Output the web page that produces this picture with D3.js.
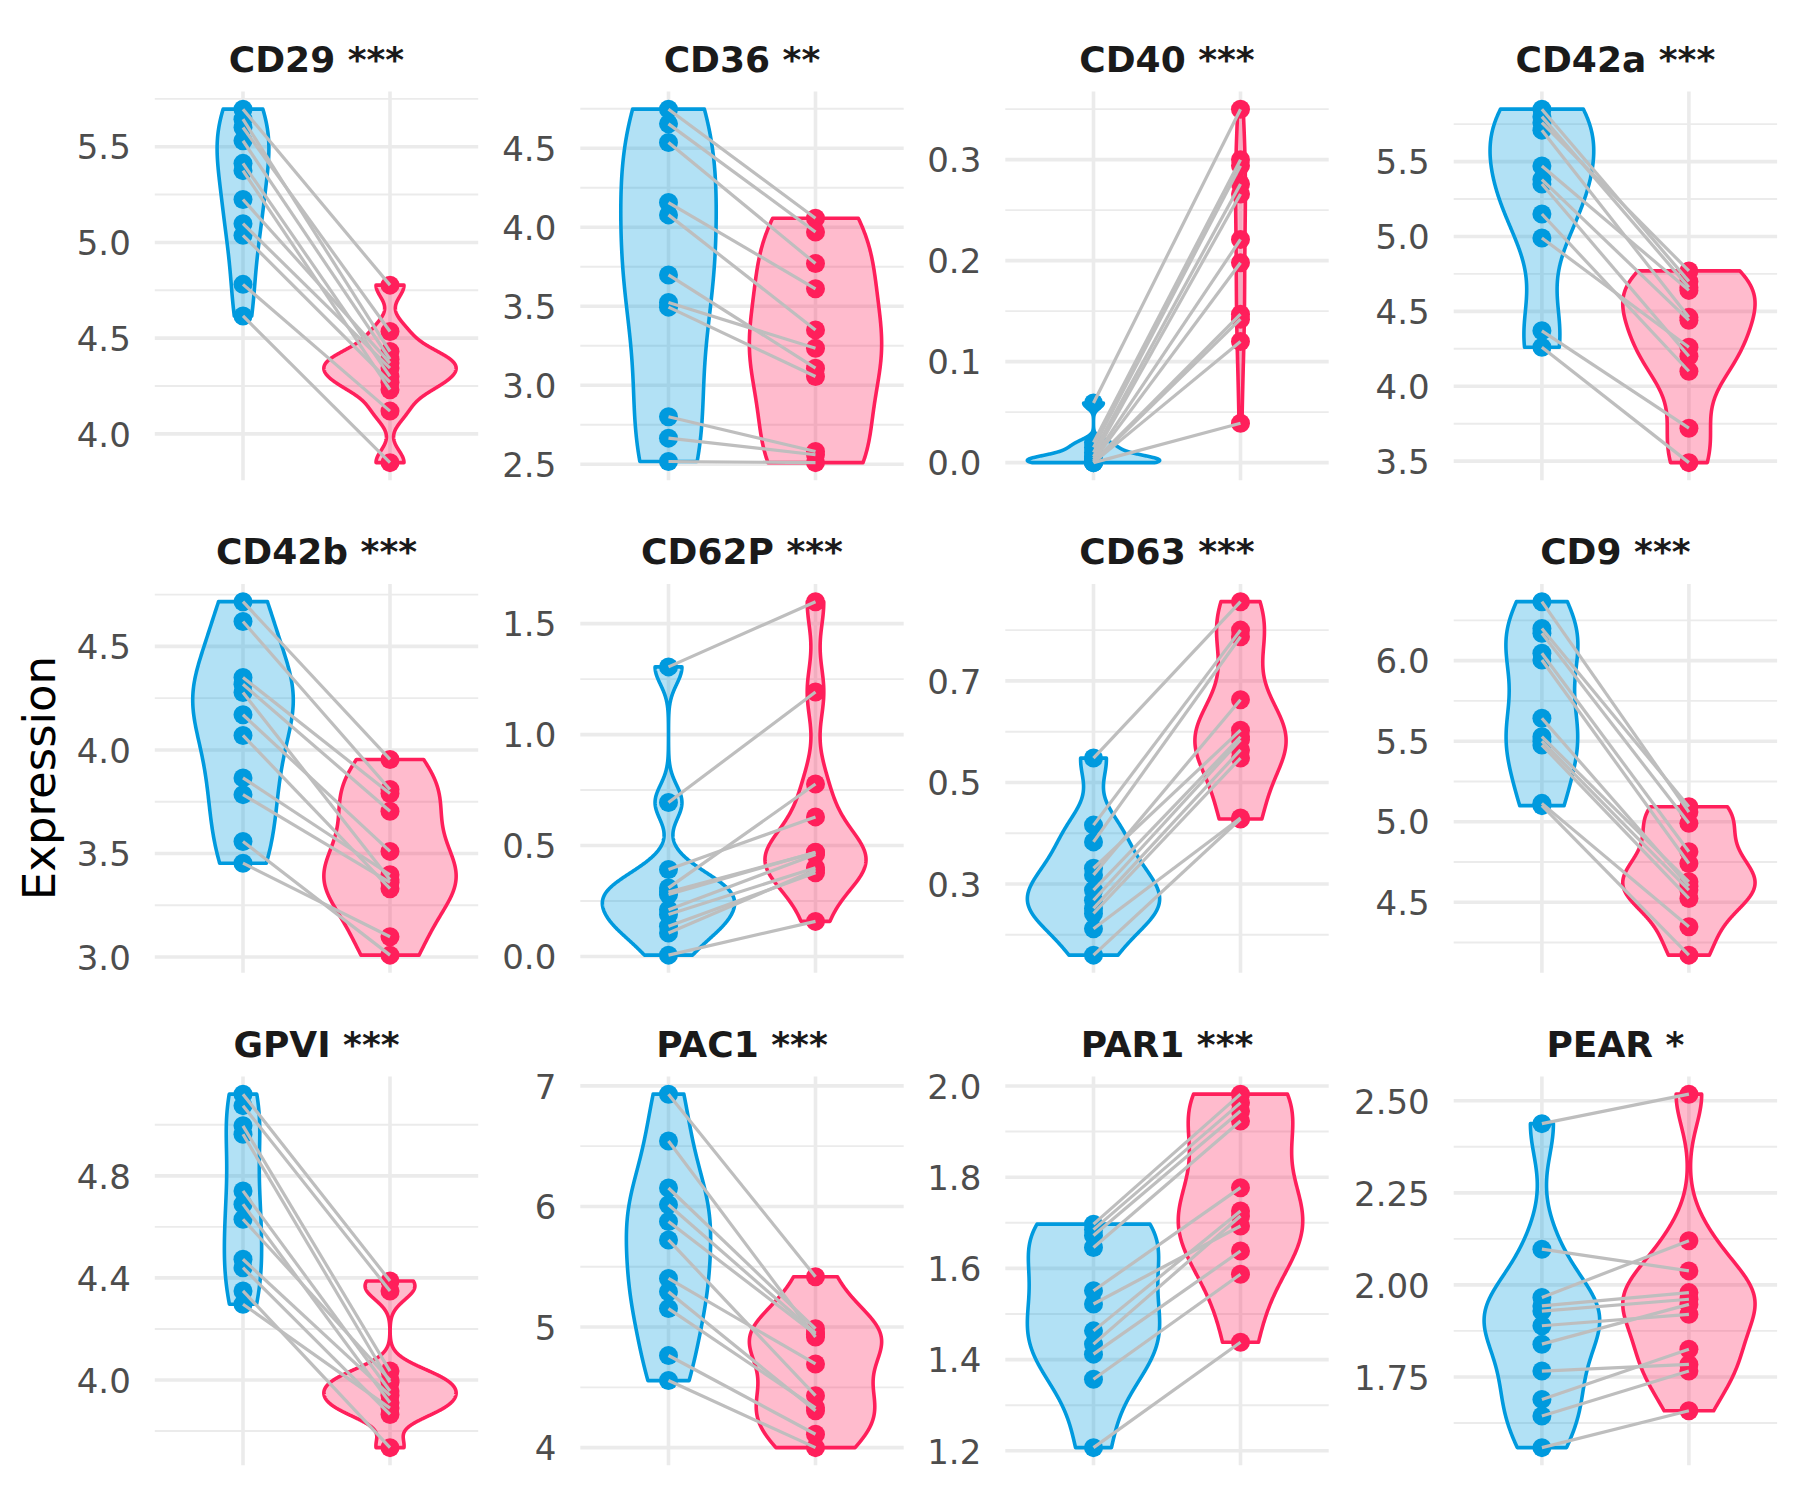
<!DOCTYPE html>
<html><head><meta charset="utf-8">
<script src="https://cdn.jsdelivr.net/npm/d3@7"></script>
<style>body{margin:0;background:#fff} svg{display:block}</style>
</head><body>
<svg id="chart" width="1800" height="1500"></svg>
<script>
// ---------------- data ----------------
const markers = ["CD29","CD36","CD40","CD42a","CD42b","CD62P","CD63","CD9","GPVI","PAC1","PAR1","PEAR"];
const significance = ["***","**","***","***","***","***","***","***","***","***","***","*"];
const groups = ["Group A","Group B"];
const groupColors = ["#009ADE","#FF1F5B"];

// paired values: index i in valuesA[m] pairs with index i in valuesB[m]
const valuesA = [
  [5.696,5.644,5.600,5.531,5.413,5.375,5.224,5.098,5.037,4.781,4.616],
  [4.747,4.654,4.536,4.156,4.078,3.698,3.523,3.494,2.800,2.665,2.517],
  [0.059,0.020,0.015,0.010,0.006,0.004,0.002,0.001,0.000,0.000,0.000],
  [5.85,5.80,5.76,5.71,5.47,5.38,5.35,5.15,4.99,4.37,4.26],
  [4.716,4.620,4.350,4.317,4.277,4.170,4.070,3.865,3.784,3.558,3.453],
  [1.305,0.694,0.392,0.309,0.290,0.279,0.211,0.189,0.136,0.106,0.006],
  [0.548,0.416,0.383,0.331,0.318,0.288,0.268,0.252,0.242,0.212,0.160],
  [6.366,6.200,6.170,6.046,6.004,5.642,5.528,5.500,5.476,5.114,5.100],
  [5.120,5.075,4.996,4.963,4.741,4.689,4.630,4.473,4.440,4.349,4.297],
  [6.931,6.542,6.153,6.014,5.875,5.722,5.403,5.292,5.153,4.764,4.556],
  [1.697,1.685,1.672,1.646,1.551,1.522,1.463,1.434,1.412,1.357,1.207],
  [2.438,2.097,1.966,1.943,1.929,1.889,1.839,1.766,1.689,1.644,1.558]
];
const valuesB = [
  [4.777,4.430,4.535,4.390,4.300,4.231,4.370,4.344,4.270,4.119,3.850],
  [4.057,3.970,3.770,3.610,3.350,3.108,3.234,3.055,2.580,2.560,2.510],
  [0.350,0.300,0.294,0.276,0.266,0.221,0.198,0.147,0.142,0.120,0.039],
  [4.70,4.66,4.77,4.46,4.64,4.44,4.20,4.10,4.26,3.72,3.49],
  [3.954,3.809,3.790,3.704,3.373,3.510,3.330,3.397,3.360,3.009,3.098],
  [1.599,1.192,0.629,0.777,0.468,0.470,0.460,0.400,0.377,0.390,0.158],
  [0.856,0.800,0.787,0.603,0.663,0.590,0.584,0.564,0.548,0.430,0.428],
  [5.060,5.093,4.990,4.814,4.741,4.600,4.627,4.576,4.524,4.348,4.172],
  [4.388,4.349,4.035,3.990,3.957,3.911,4.000,3.940,3.865,3.735,3.890],
  [5.417,4.917,4.986,4.950,4.940,4.431,4.694,4.306,4.330,4.111,4.000],
  [1.982,1.963,1.945,1.923,1.777,1.693,1.726,1.715,1.638,1.587,1.438],
  [2.518,2.038,2.120,1.979,1.961,1.920,1.947,1.784,1.825,1.766,1.658]
];
const tickValues = [
  [4.0,4.5,5.0,5.5],
  [2.5,3.0,3.5,4.0,4.5],
  [0.0,0.1,0.2,0.3],
  [3.5,4.0,4.5,5.0,5.5],
  [3.0,3.5,4.0,4.5],
  [0.0,0.5,1.0,1.5],
  [0.3,0.5,0.7],
  [4.5,5.0,5.5,6.0],
  [4.0,4.4,4.8],
  [4,5,6,7],
  [1.2,1.4,1.6,1.8,2.0],
  [1.75,2.00,2.25,2.50]
];
const tickLabels = [
  ["4.0","4.5","5.0","5.5"],
  ["2.5","3.0","3.5","4.0","4.5"],
  ["0.0","0.1","0.2","0.3"],
  ["3.5","4.0","4.5","5.0","5.5"],
  ["3.0","3.5","4.0","4.5"],
  ["0.0","0.5","1.0","1.5"],
  ["0.3","0.5","0.7"],
  ["4.5","5.0","5.5","6.0"],
  ["4.0","4.4","4.8"],
  ["4","5","6","7"],
  ["1.2","1.4","1.6","1.8","2.0"],
  ["1.75","2.00","2.25","2.50"]
];
const yTitle = "Expression";

// ---------------- layout ----------------
const colLefts = [154.8, 580.3, 1005.3, 1453.7];
const rowTops = [91.5, 584, 1076.5];
const panelW = 323.4, panelH = 388.8;
const FONT = "'DejaVu Sans', Verdana, sans-serif";

const svg = d3.select("#chart");
svg.append("rect").attr("width",1800).attr("height",1500).attr("fill","#fff");

function bwNrd0(x){
  const s = x.slice().sort(d3.ascending);
  const sd = d3.deviation(s);
  const iqr = d3.quantile(s,0.75) - d3.quantile(s,0.25);
  let lo = Math.min(sd, iqr/1.34);
  if(!(lo > 0)) lo = sd || Math.abs(s[0]) || 1;
  return 0.9 * lo * Math.pow(s.length, -0.2);
}
function kde(x, n){
  const bw = bwNrd0(x);
  const lo = d3.min(x), hi = d3.max(x);
  const out = [];
  for(let k=0;k<n;k++){
    const y = lo + (hi-lo)*k/(n-1);
    let s = 0;
    for(const v of x){ const u=(y-v)/bw; s += Math.exp(-0.5*u*u); }
    out.push([y, s/(x.length*bw*Math.sqrt(2*Math.PI))]);
  }
  return out;
}

markers.forEach((m, i) => {
  const col = i % 4, row = Math.floor(i / 4);
  const left = colLefts[col], top = rowTops[row];
  const g = svg.append("g").attr("transform", `translate(${left},${top})`);
  const a = valuesA[i], b = valuesB[i];
  const all = a.concat(b);
  const mn = d3.min(all), mx = d3.max(all), r = mx - mn;
  const y = d3.scaleLinear().domain([mn - 0.05*r, mx + 0.05*r]).range([panelH, 0]);
  const x = d3.scalePoint().domain(groups).range([0, panelW]).padding(0.6);
  const step = x.step();

  // minor grid
  const t = tickValues[i];
  const d = t[1]-t[0];
  const minors = [];
  for(let k=-1;k<t.length;k++){
    const v = t[0] + (k+0.5)*d;
    if(v >= y.domain()[0] && v <= y.domain()[1]) minors.push(v);
  }
  g.selectAll(".minor").data(minors).join("line")
    .attr("x1",0).attr("x2",panelW).attr("y1",v=>y(v)).attr("y2",v=>y(v))
    .attr("stroke","#EBEBEB").attr("stroke-width",1.9);
  g.selectAll(".major").data(t).join("line")
    .attr("x1",0).attr("x2",panelW).attr("y1",v=>y(v)).attr("y2",v=>y(v))
    .attr("stroke","#EBEBEB").attr("stroke-width",3.6);
  g.selectAll(".vmajor").data(groups).join("line")
    .attr("x1",v=>x(v)).attr("x2",v=>x(v)).attr("y1",0).attr("y2",panelH)
    .attr("stroke","#EBEBEB").attr("stroke-width",3.6);

  // y axis
  const ax = g.append("g").call(d3.axisLeft(y).tickValues(t)
      .tickFormat((v,k)=>tickLabels[i][k]).tickSize(0).tickPadding(24));
  ax.select(".domain").remove();
  ax.selectAll("text").attr("font-family",FONT).attr("font-size",34)
    .attr("fill","#4D4D4D").attr("dy","0.36em");

  // violins (scale = area within panel)
  const dens = [kde(a,512), kde(b,512)];
  const maxD = d3.max(dens, dd => d3.max(dd, p=>p[1]));
  dens.forEach((dd, gi) => {
    const cx = x(groups[gi]);
    const hw = p => 0.45*step*p[1]/maxD;
    const pts = dd.map(p=>[cx+hw(p), y(p[0])])
      .concat(dd.slice().reverse().map(p=>[cx-hw(p), y(p[0])]));
    g.append("path").attr("d", d3.line()(pts)+"Z")
      .attr("fill", groupColors[gi]).attr("fill-opacity",0.3)
      .attr("stroke", groupColors[gi]).attr("stroke-width",3.6)
      .attr("stroke-linejoin","round");
  });

  // points
  [a,b].forEach((vals, gi) => {
    g.selectAll(null).data(vals).join("circle")
      .attr("cx", x(groups[gi])).attr("cy", v=>y(v)).attr("r", 9.5)
      .attr("fill", groupColors[gi]);
  });

  // paired lines
  g.selectAll(null).data(a.map((v,k)=>[v,b[k]])).join("line")
    .attr("x1", x(groups[0])).attr("x2", x(groups[1]))
    .attr("y1", p=>y(p[0])).attr("y2", p=>y(p[1]))
    .attr("stroke","#BEBEBE").attr("stroke-width",3.2);

  // title
  g.append("text").attr("x", panelW/2).attr("y", -20)
    .attr("text-anchor","middle").attr("font-family",FONT)
    .attr("font-weight","bold").attr("font-size",36).attr("fill","#1A1A1A")
    .text(m + " " + significance[i]);
});

svg.append("text").attr("transform","translate(54.5,778) rotate(-90)")
  .attr("text-anchor","middle").attr("font-family",FONT)
  .attr("font-size",45).attr("fill","#000").text(yTitle);
</script>
</body></html>
